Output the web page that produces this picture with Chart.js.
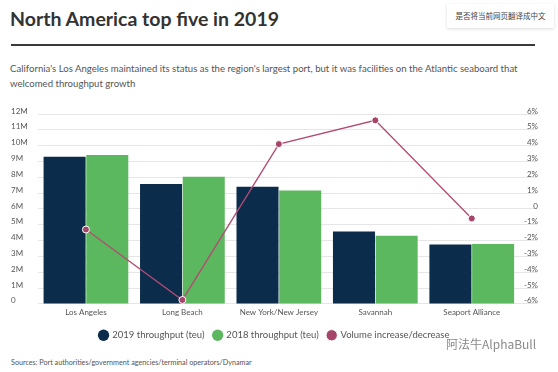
<!DOCTYPE html>
<html>
<head>
<meta charset="utf-8">
<script src="https://cdn.jsdelivr.net/npm/chart.js@4/dist/chart.umd.min.js"></script>
<style>
  body { margin: 0; width: 558px; height: 372px; background: #fff; position: relative; overflow: hidden; font-family: Lato, "Open Sans", sans-serif; }
  #title { position: absolute; left: 10px; top: 7px; font-size: 19.5px; font-weight: bold; color: #333; }
  #rule { position: absolute; left: 11px; top: 44px; width: 524px; height: 2px; background: #3a3a3a; }
  #sub { position: absolute; left: 10px; top: 61px; width: 520px; font-size: 9.6px; line-height: 15px; color: #555; }
  #translate { position: absolute; left: 447px; top: 4px; width: 107px; height: 24px; background: #fff; box-shadow: 0 1px 3px rgba(0,0,0,0.15); font-family: "Noto Sans CJK SC", sans-serif; font-size: 7.5px; color: #444; text-align: center; line-height: 24px; }
  #chartBox { position: absolute; left: 0; top: 100px; width: 558px; height: 250px; }
  #src { position: absolute; left: 11px; top: 358px; font-size: 7.2px; color: #555; }
  #mark { position: absolute; left: 446px; top: 335px; font-family: "Noto Sans CJK SC", sans-serif; font-size: 12px; color: #8a8a8a; }
</style>
</head>
<body>
<div id="title">North America top five in 2019</div>
<div id="translate">是否将当前网页翻译成中文</div>
<div id="rule"></div>
<div id="sub">California's Los Angeles maintained its status as the region's largest port, but it was facilities on the Atlantic seaboard that welcomed throughput growth</div>
<div id="chartBox"><canvas id="portChart"></canvas></div>
<div id="mark">阿法牛AlphaBull</div>
<div id="src">Sources: Port authorities/government agencies/terminal operators/Dynamar</div>
<script>
// Data
const ports = ["Los Angeles", "Long Beach", "New York/New Jersey", "Savannah", "Seaport Alliance"];
const teu2019 = [9300000, 7580000, 7410000, 4570000, 3760000];
const teu2018 = [9410000, 8040000, 7160000, 4300000, 3790000];
const volumeChange = [-1.3, -5.75, 4.1, 5.6, -0.6];

const gridColor = "#e6e6e6";
const tickFont = { family: "Lato, sans-serif", size: 8 };

new Chart(document.getElementById("portChart"), {
    type: "bar",
    data: {
        labels: ports,
        datasets: [
            {
                label: "2019 throughput (teu)",
                data: teu2019,
                backgroundColor: "#0b2c4b",
                yAxisID: "y",
                order: 1,
            },
            {
                label: "2018 throughput (teu)",
                data: teu2018,
                backgroundColor: "#5cb85f",
                yAxisID: "y",
                order: 1,
            },
            {
                type: "line",
                label: "Volume increase/decrease",
                data: volumeChange,
                yAxisID: "y1",
                borderColor: "#b24b72",
                backgroundColor: "#c9466f",
                borderWidth: 1.3,
                pointRadius: 3.5,
                pointBackgroundColor: "#a5456a",
                pointBorderColor: "#fff",
                pointBorderWidth: 1,
                tension: 0,
                order: 0,
            },
        ],
    },
    options: {
        responsive: true,
        maintainAspectRatio: false,
        animation: false,
        layout: { padding: { left: 11, right: 20, top: 14, bottom: 0 } },
        datasets: {
            bar: { categoryPercentage: 0.885, barPercentage: 0.985 },
        },
        plugins: {
            legend: {
                position: "bottom",
                labels: {
                    usePointStyle: true,
                    pointStyle: "circle",
                    boxWidth: 8,
                    boxHeight: 8,
                    padding: 9,
                    color: "#555",
                    font: { family: "Lato, sans-serif", size: 9.5 },
                    sort: (a, b) => a.datasetIndex - b.datasetIndex,
                },
            },
            tooltip: { enabled: false },
        },
        scales: {
            x: {
                grid: { display: false, drawTicks: false },
                border: { display: false },
                ticks: { color: "#555", font: tickFont, padding: 4 },
            },
            y: {
                position: "left",
                min: 0,
                max: 12000000,
                ticks: {
                    stepSize: 1000000,
                    color: "#555",
                    font: tickFont,
                    padding: 5,
                    labelOffset: -3,
                    crossAlign: "far",
                    callback: (v) => (v === 0 ? "0" : v / 1000000 + "M"),
                },
                grid: { color: gridColor, drawTicks: false },
                border: { display: false },
            },
            y1: {
                position: "right",
                min: -6,
                max: 6,
                afterFit: (scale) => { scale.width = 18; },
                ticks: {
                    stepSize: 1,
                    color: "#555",
                    font: tickFont,
                    padding: 0,
                    labelOffset: -3,
                    crossAlign: "far",
                    callback: (v) => (v === 0 ? "0" : v + "%"),
                },
                grid: { color: gridColor, drawOnChartArea: false, drawTicks: true, tickLength: 17 },
                border: { display: false },
            },
        },
    },
});
</script>
</body>
</html>
